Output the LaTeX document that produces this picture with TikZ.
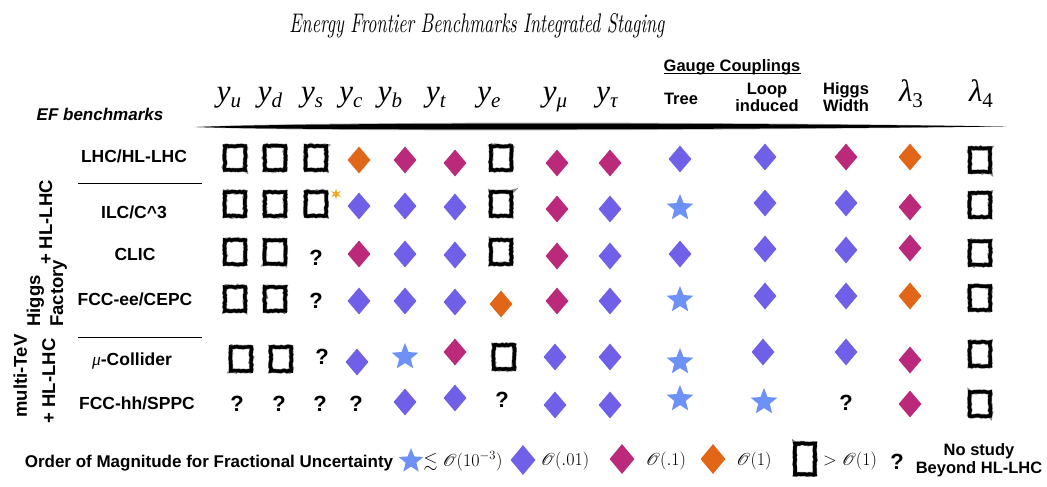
\RequirePackage{fix-cm}
\documentclass[tikz,border=0pt]{standalone}
\usepackage{amssymb}
\usepackage{mathrsfs}
\usepackage{fontspec}
\setmainfont{Liberation Sans}
\newfontfamily\lserif{Liberation Serif}
\newfontfamily\lmrm{Latin Modern Roman}
\usetikzlibrary{shapes.geometric,decorations.pathmorphing}
\definecolor{cblue}{HTML}{7060E8}
\definecolor{cmag}{HTML}{BB297A}
\definecolor{corange}{HTML}{E26618}
\definecolor{cstar}{HTML}{6E91F5}
\definecolor{cast}{HTML}{F0AA28}
\newcommand{\hsym}[2]{{\fontsize{31}{31}\selectfont\lserif\itshape #1}\raisebox{-6.5pt}{\fontsize{21}{21}\selectfont\lserif #2}}
\newcommand{\lmath}[1]{{\fontsize{18}{18}\selectfont$#1$}}
\begin{document}
\begin{tikzpicture}[x=1pt,y=-1pt,
  dia/.style={diamond,inner sep=0pt,minimum width=23pt,minimum height=27pt},
  bd/.style={dia,fill=cblue},
  md/.style={dia,fill=cmag},
  od/.style={dia,fill=corange},
  st/.style={star,star points=5,star point ratio=2.3,fill=cstar,inner sep=0pt,minimum size=28pt},
  bx/.style={draw=black,line width=3.4pt,minimum width=20.5pt,minimum height=24pt,inner sep=0pt,
    preaction={draw=black!45,line width=4.4pt,decorate,decoration={random steps,segment length=1.5pt,amplitude=0.7pt}},
    decorate,decoration={random steps,segment length=2pt,amplitude=0.5pt}},
  qm/.style={inner sep=0pt,font=\fontsize{22}{22}\selectfont\bfseries,execute at begin node={?}},
  rowlab/.style={font=\fontsize{17.5}{20}\selectfont\bfseries,inner sep=0pt},
  grp/.style={font=\fontsize{18.5}{20}\selectfont\bfseries,rotate=90,inner sep=0pt},
  hdr/.style={anchor=base,inner sep=0pt},
  hbold/.style={font=\fontsize{16.5}{17}\selectfont\bfseries,align=center,inner sep=0pt},
]
\useasboundingbox (0,0) rectangle (1047,487);
\fill[white] (0,0) rectangle (1047,487);

% title
\node[anchor=base,inner sep=0pt] (title) at (477,33) {\resizebox{375pt}{19pt}{\lmrm\itshape Energy Frontier Benchmarks Integrated Staging}};

% header
\node[font=\fontsize{17}{17}\selectfont\bfseries\itshape,inner sep=0pt] (ef) at (100,114) {EF benchmarks};
\node[hdr] (hyu) at (229,101) {\hsym{y}{\itshape u}};
\node[hdr] (hyd) at (270,101) {\hsym{y}{\itshape d}};
\node[hdr] (hys) at (312,101) {\hsym{y}{\itshape s}};
\node[hdr] (hyc) at (351,101) {\hsym{y}{\itshape c}};
\node[hdr] (hyb) at (390,101) {\hsym{y}{\itshape b}};
\node[hdr] (hyt) at (436,101) {\hsym{y}{\itshape t}};
\node[hdr] (hye) at (489,101) {\hsym{y}{\itshape e}};
\node[hdr] (hym) at (555,101) {\hsym{y}{\itshape μ}};
\node[hdr] (hyta) at (607,101) {\hsym{y}{\itshape τ}};
\node[hdr] (hl3) at (911,101) {\hsym{λ}{3}};
\node[hdr] (hl4) at (981,101) {\hsym{λ}{4}};
\node[hbold,anchor=base] (gauge) at (732,71) {Gauge Couplings};
\draw[line width=1.2pt] ([yshift=-2.2pt]gauge.base west) -- ([yshift=-2.2pt]gauge.base east);
\node[hbold] (tree) at (681,99) {Tree};
\node[hbold] (loop) at (767,97) {Loop\\induced};
\node[hbold] (hw) at (846,97) {Higgs\\Width};

% brush line under header
\fill[black!35] (194,127) .. controls (300,121.5) and (700,121) .. (1007,126.5) .. controls (700,131) and (300,132) .. (194,127) -- cycle;
\fill[black] (197,127) .. controls (300,122.8) and (700,122.3) .. (1003,126.5) .. controls (700,129.8) and (300,130.6) .. (197,127) -- cycle;

% row labels
\node[rowlab] (l1) at (134,156) {LHC/HL-LHC};
\node[rowlab] (l2) at (134,212) {ILC/C\textasciicircum 3};
\node[rowlab] (l3) at (135,254) {CLIC};
\node[rowlab] (l4) at (135,299) {FCC-ee/CEPC};
\node[rowlab] (l5) at (132,361) {{\lserif\mdseries\itshape μ}-Collider};
\node[rowlab] (l6) at (137,403) {FCC-hh/SPPC};
\draw[line width=1pt] (78,183) -- (202,183);
\draw[line width=1pt] (78,337) -- (202,337);

% group labels
\node[grp,anchor=base west] (g1a) at (40,327) {Higgs};
\node[grp,anchor=base west] (g1b) at (63,327) {Factory};
\node[grp,anchor=base east] (g1c) at (52,180) {+ HL-LHC};
\node[grp,anchor=base] (g2a) at (27,376) {multi-TeV};
\node[grp,anchor=base] (g2b) at (55,381) {+ HL-LHC};

% grid
\foreach \s/\x/\y [count=\i] in {bx/235/158,bx/275/158,bx/316/158,od/359/160,md/405/160,md/455/163,bx/501/158,md/557/163,md/610/163,bd/680/159,bd/765/157,md/846/157,od/910/157,bx/980/160}
  \node[\s] (a\i) at (\x,\y) {};
\foreach \s/\x/\y [count=\i] in {bx/235/204,bx/275/204,bx/316/204,bd/359/206,bd/405/206,bd/455/207,bx/501/204,md/557/209,bd/610/209,st/680/208,bd/765/203,bd/846/203,md/910/207,bx/980/205}
  \node[\s] (b\i) at (\x,\y) {};
\foreach \s/\x/\y [count=\i] in {bx/235/252,bx/275/252,qm/316/258,md/359/254,bd/405/254,bd/455/255,bx/501/252,md/557/256,bd/610/256,bd/680/254,bd/765/249,bd/846/250,md/910/248,bx/980/253}
  \node[\s] (c\i) at (\x,\y) {};
\foreach \s/\x/\y [count=\i] in {bx/235/299,bx/275/299,qm/316/301,bd/359/301,bd/405/301,bd/455/302,od/501/304,md/557/301,bd/610/301,st/680/300,bd/765/296,bd/846/296,od/910/296,bx/980/298}
  \node[\s] (d\i) at (\x,\y) {};
\foreach \s/\x/\y [count=\i] in {bx/241/359,bx/281/359,qm/322/357,bd/357/362,st/405/357,md/455/352,bx/504/357,bd/555/357,bd/610/357,st/680/362,bd/763/352,bd/846/352,md/910/360,bx/980/354}
  \node[\s] (e\i) at (\x,\y) {};
\foreach \s/\x/\y [count=\i] in {qm/237/404,qm/279/404,qm/320/404,qm/356/404,bd/405/402,bd/455/398,qm/502/400,bd/555/405,bd/610/405,st/680/399,st/764/402,qm/846/403,md/910/404,bx/980/404}
  \node[\s] (f\i) at (\x,\y) {};
\node[star,star points=6,star point ratio=2.6,fill=cast,inner sep=0pt,minimum size=11pt] (ast) at (336,194) {};

% legend
\node[font=\fontsize{17}{17}\selectfont\bfseries,inner sep=0pt] (leg) at (209,463) {Order of Magnitude for Fractional Uncertainty};
\node[st,minimum size=26pt] (ls) at (411,461) {};
\node[inner sep=0pt] (lst) at (463,461) {\lmath{\lesssim\mathscr{O}(10^{-3})}};
\node[bd,minimum width=25pt,minimum height=30pt] (lb) at (523,460) {};
\node[inner sep=0pt] (lbt) at (565,461) {\lmath{\mathscr{O}(.01)}};
\node[md,minimum width=25pt,minimum height=30pt] (lm) at (622,459) {};
\node[inner sep=0pt] (lmt) at (666,461) {\lmath{\mathscr{O}(.1)}};
\node[od,minimum width=25pt,minimum height=30pt] (lo) at (713,459) {};
\node[inner sep=0pt] (lot) at (754,461) {\lmath{\mathscr{O}(1)}};
\node[bx,minimum width=20pt,minimum height=31pt,line width=3.6pt] (lx) at (805,459) {};
\node[inner sep=0pt] (lxt) at (850,461) {\lmath{>\mathscr{O}(1)}};
\node[qm] (lq) at (897,462) {};
\node[hbold,font=\fontsize{16.5}{18}\selectfont\bfseries] (lqt) at (979,460) {No study\\Beyond HL-LHC};
\end{tikzpicture}
\end{document}
